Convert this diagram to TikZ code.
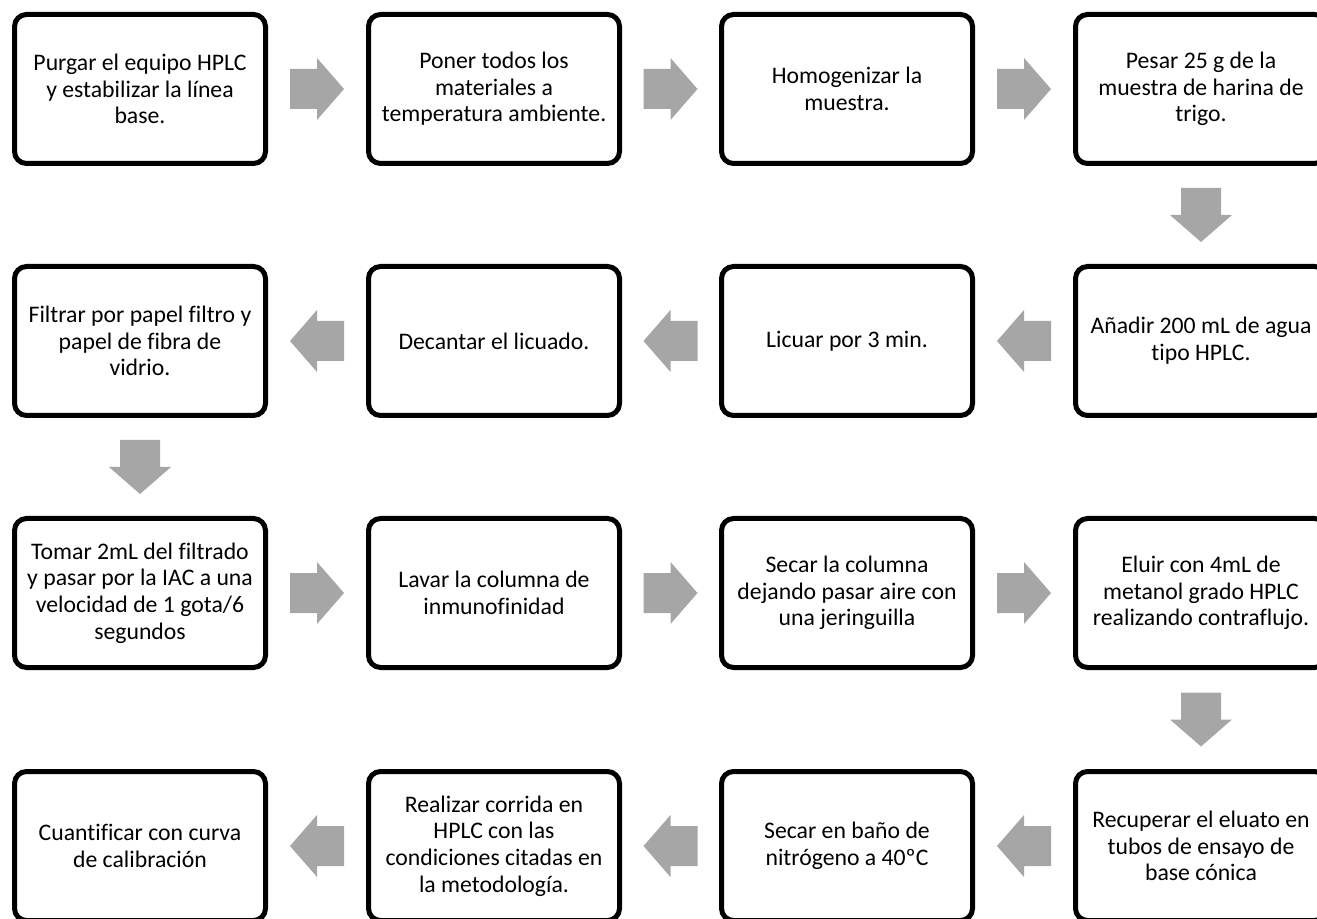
\documentclass[tikz,border=0pt]{standalone}
\usepackage{fontspec}
\setmainfont{Carlito-Regular.ttf}[Ligatures=NoCommon]
\usetikzlibrary{calc}
\definecolor{grisflecha}{RGB}{166,166,166}

\tikzset{
  paso/.style={draw=black, line width=3.75pt, rounded corners=9pt, fill=white,
    minimum width=188.25pt, minimum height=111.75pt, inner sep=0pt,
    align=center, font=\fontsize{17.8pt}{20pt}\selectfont},
  flecha/.style={fill=grisflecha, draw=none}
}
% flechas de bloque entre dos pasos
\newcommand{\flechaDer}[2]{\fill[flecha] ($(#1.east)!.5!(#2.west)$) ++(-27,-20) -- ++(27,0) -- ++(0,-11) -- ++(27,31) -- ++(-27,31) -- ++(0,-11) -- ++(-27,0) -- cycle;}
\newcommand{\flechaIzq}[2]{\fill[flecha] ($(#1.west)!.5!(#2.east)$) ++(27,-20) -- ++(-27,0) -- ++(0,-11) -- ++(-27,31) -- ++(27,31) -- ++(0,-11) -- ++(27,0) -- cycle;}
\newcommand{\flechaAbj}[2]{\fill[flecha] ($(#1.south)!.5!(#2.north)$) ++(-20,-27) -- ++(0,27) -- ++(-11,0) -- ++(31,27) -- ++(31,-27) -- ++(-11,0) -- ++(0,-27) -- cycle;}

\begin{document}
\begin{tikzpicture}[x=0.75pt,y=-0.75pt]
\useasboundingbox (0,0) rectangle (1317,919);
\clip (0,0) rectangle (1317,919);

% fila 1
\node[paso] (purgar) at (140,89) {Purgar el equipo HPLC\\y estabilizar la línea\\base.};
\node[paso] (poner) at (494,89) {Poner todos los\\materiales a\\temperatura ambiente.};
\node[paso] (homog) at (847,89) {Homogenizar la\\muestra.};
\node[paso] (pesar) at (1201,89) {Pesar 25 g de la\\muestra de harina de\\trigo.};

% fila 2
\node[paso] (anadir) at (1201,341) {Añadir 200 mL de agua\\tipo HPLC.};
\node[paso] (licuar) at (847,341) {Licuar por 3 min.};
\node[paso] (decantar) at (494,341) {Decantar el licuado.};
\node[paso] (filtrar) at (140,341) {Filtrar por papel filtro y\\papel de fibra de\\vidrio.};

% fila 3
\node[paso] (tomar) at (140,593) {Tomar 2mL del filtrado\\y pasar por la IAC a una\\velocidad de 1 gota/6\\segundos};
\node[paso] (lavar) at (494,593) {Lavar la columna de\\inmunofinidad};
\node[paso] (secarcol) at (847,593) {Secar la columna\\dejando pasar aire con\\una jeringuilla};
\node[paso] (eluir) at (1201,593) {Eluir con 4mL de\\metanol grado HPLC\\realizando contraflujo.};

% fila 4
\node[paso] (recuperar) at (1201,846) {Recuperar el eluato en\\tubos de ensayo de\\base cónica};
\node[paso] (secarbano) at (847,846) {Secar en baño de\\nitrógeno a 40ºC};
\node[paso] (realizar) at (494,846) {Realizar corrida en\\HPLC con las\\condiciones citadas en\\la metodología.};
\node[paso] (cuantif) at (140,846) {Cuantificar con curva\\de calibración};

\flechaDer{purgar}{poner}
\flechaDer{poner}{homog}
\flechaDer{homog}{pesar}
\flechaAbj{pesar}{anadir}
\flechaIzq{anadir}{licuar}
\flechaIzq{licuar}{decantar}
\flechaIzq{decantar}{filtrar}
\flechaAbj{filtrar}{tomar}
\flechaDer{tomar}{lavar}
\flechaDer{lavar}{secarcol}
\flechaDer{secarcol}{eluir}
\flechaAbj{eluir}{recuperar}
\flechaIzq{recuperar}{secarbano}
\flechaIzq{secarbano}{realizar}
\flechaIzq{realizar}{cuantif}
\end{tikzpicture}
\end{document}
